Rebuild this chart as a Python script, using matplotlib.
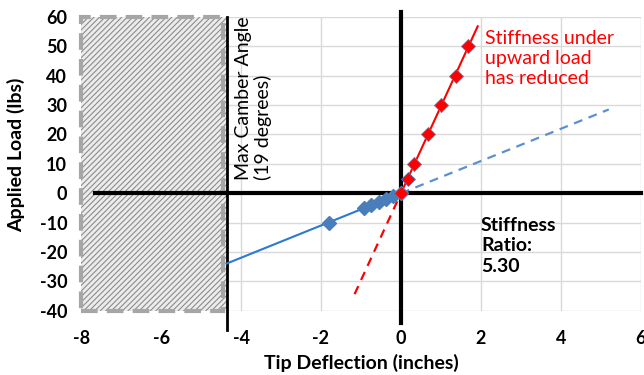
import matplotlib
matplotlib.use("Agg")
import matplotlib.pyplot as plt
from matplotlib.patches import Rectangle
import numpy as np

plt.rcParams["font.family"] = ["Lato", "DejaVu Sans"]
plt.rcParams["hatch.linewidth"] = 0.8
plt.rcParams["axes.unicode_minus"] = False

# measured points (tip deflection in inches, applied load in lbs)
down_x = np.array([-1.80, -0.93, -0.75, -0.56, -0.37, -0.19, 0.0])
down_y = np.array([-10, -5, -4, -3, -2, -1, 0])
up_x = np.array([0.0, 0.17, 0.32, 0.67, 1.0, 1.37, 1.69])
up_y = np.array([0, 5, 10, 20, 30, 40, 50])

CAMBER_LIMIT = -4.35          # max camber angle deflection
DOWN_EXTRAP = 5.2             # dashed extension of downward-load fit
UP_FIT_END = 1.92
UP_EXTRAP = -1.16
STIFFNESS_RATIO = "5.30"

# fits through the origin
k_down = np.sum(down_x * down_y) / np.sum(down_x ** 2)
k_up = np.sum(up_x * up_y) / np.sum(up_x ** 2)

fig = plt.figure(figsize=(6.44, 3.75), dpi=100)
ax = fig.add_axes([0.126, 0.171, 0.869, 0.784])
ax.set_xlim(-8, 6)
ax.set_ylim(-40, 60)
ax.set_xticks(np.arange(-8, 7, 2))
ax.set_yticks(np.arange(-40, 61, 10))
ax.grid(True, color="#d9d9d9", lw=1)
ax.set_axisbelow(True)
for s in ax.spines.values():
    s.set_visible(False)
ax.tick_params(axis="y", length=0, labelsize=13, pad=10)
ax.tick_params(axis="x", length=0, labelsize=13, pad=14)
for lab in ax.get_xticklabels() + ax.get_yticklabels():
    lab.set_fontweight("bold")

# region beyond max camber
ax.add_patch(Rectangle((-8, -40), CAMBER_LIMIT + 8, 100, facecolor="#ececec",
                       hatch="//////", edgecolor="#8c8c8c", lw=0, zorder=1))
ax.add_patch(Rectangle((-8, -40), CAMBER_LIMIT + 8 - 0.1, 100, fill=False,
                       edgecolor="#a6a6a6", lw=3, ls=(0, (4, 2.2)), zorder=2,
                       clip_on=False))

# zero axes and camber limit line
ax.plot([-7.65, 6], [0, 0], color="black", lw=3, zorder=3, clip_on=False)
ax.plot([0, 0], [-44, 61.5], color="black", lw=3, zorder=3, clip_on=False)
ax.plot([CAMBER_LIMIT, CAMBER_LIMIT], [-46.5, 60], color="black", lw=2,
        zorder=3, clip_on=False)

# fit lines
xd = np.array([CAMBER_LIMIT, 0])
ax.plot(xd, k_down * xd, color="#2a7ad2", lw=1.5, zorder=4)
xd2 = np.array([0, DOWN_EXTRAP])
ax.plot(xd2, k_down * xd2, color="#5b8fd0", lw=1.6, ls=(0, (4, 3)), zorder=4)
xu = np.array([0, UP_FIT_END])
ax.plot(xu, k_up * xu, color="red", lw=1.5, zorder=4)
xu2 = np.array([UP_EXTRAP, 0])
ax.plot(xu2, k_up * xu2, color="red", lw=1.6, ls=(0, (4, 3)), zorder=4)

# data markers
ax.plot(down_x, down_y, ls="none", marker="D", ms=7, color="#4a7ebb",
        markeredgecolor="#4a7ebb", zorder=5)
ax.plot(up_x, up_y, ls="none", marker="D", ms=7, color="red",
        markeredgecolor="#4a7ebb", markeredgewidth=0.6, zorder=5)

ax.text(-4.15, 60, "Max Camber Angle\n(19 degrees)", rotation=90,
        ha="left", va="top", fontsize=14, linespacing=1.1, zorder=6)
ax.text(2.1, 55.5, "Stiffness under\nupward load\nhas reduced", color="red",
        ha="left", va="top", fontsize=14, linespacing=1.2, zorder=6)
ax.text(2.0, -8, "Stiffness\nRatio:\n" + STIFFNESS_RATIO, ha="left",
        va="top", fontsize=14, fontweight="bold", linespacing=1.25, zorder=6)

ax.set_xlabel("Tip Deflection (inches)", fontsize=14, fontweight="bold",
              labelpad=5)
ax.set_ylabel("Applied Load (lbs)", fontsize=14, fontweight="bold")
ax.yaxis.set_label_coords(-0.1, 0.53)

fig.savefig("out.png", dpi=100)
